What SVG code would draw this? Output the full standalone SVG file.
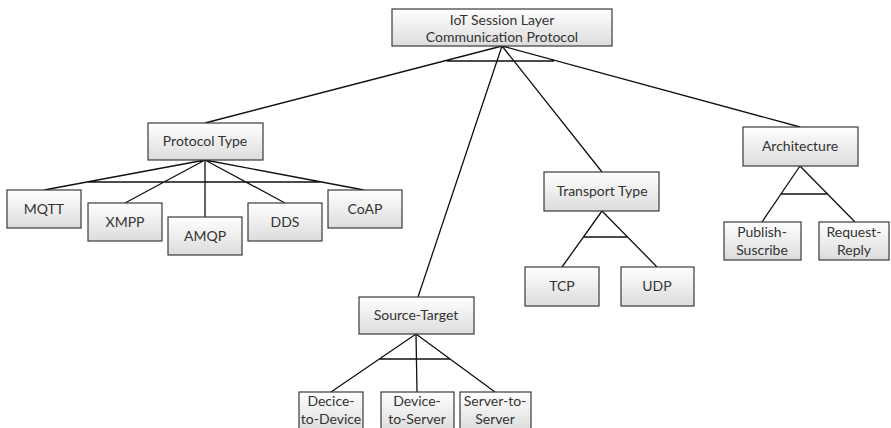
<svg xmlns="http://www.w3.org/2000/svg" width="891" height="428" viewBox="0 0 891 428">
  <defs>
    <linearGradient id="boxFill" x1="0" y1="0" x2="0" y2="1">
      <stop offset="0" stop-color="#ffffff"/>
      <stop offset="1" stop-color="#dcdcdc"/>
    </linearGradient>
    <style>
      .box { fill: url(#boxFill); stroke: #3a3a3a; stroke-width: 1.2; }
      .lbl { font-family: Lato, "Liberation Sans", sans-serif; font-size: 14px; fill: #333333; text-anchor: middle; }
      .link { stroke: #111111; stroke-width: 1.3; fill: none; }
    </style>
  </defs>
  <rect width="891" height="428" fill="#ffffff"/>

  <!-- connectors -->
  <g id="connectors">
    <!-- root fan-out -->
    <path class="link" d="M502 46 L205 123 M502 46 L418 297 M502 46 L602 172 M502 46 L800 127 M447 61 H554"/>
    <!-- protocol type fan-out -->
    <path class="link" d="M205 160 L44 190 M205 160 L125 203 M205 160 L205 217 M205 160 L285 203 M205 160 L364 190 M88 182 H321"/>
    <!-- source-target fan-out -->
    <path class="link" d="M416 334 L331 392 M416 334 L417 392 M416 334 L495 392 M379 359 H450"/>
    <!-- transport type fan-out -->
    <path class="link" d="M602 211 L562 267 M602 211 L657 267 M583 237 H628"/>
    <!-- architecture fan-out -->
    <path class="link" d="M800 166 L762 222 M800 166 L855 222 M781 194 H828"/>
  </g>

  <g id="root">
    <rect class="box" x="392" y="9" width="220" height="37"/>
    <text class="lbl" x="502" y="25">IoT Session Layer</text>
    <text class="lbl" x="502" y="42">Communication Protocol</text>
  </g>

  <g id="protocol-type">
    <rect class="box" x="148" y="123" width="115" height="37"/>
    <text class="lbl" x="205" y="146">Protocol Type</text>
  </g>
  <g id="mqtt">
    <rect class="box" x="7" y="190" width="74" height="38"/>
    <text class="lbl" x="44" y="214">MQTT</text>
  </g>
  <g id="xmpp">
    <rect class="box" x="88" y="203" width="74" height="38"/>
    <text class="lbl" x="125" y="227">XMPP</text>
  </g>
  <g id="amqp">
    <rect class="box" x="168" y="217" width="74" height="38"/>
    <text class="lbl" x="205" y="241">AMQP</text>
  </g>
  <g id="dds">
    <rect class="box" x="248" y="203" width="74" height="38"/>
    <text class="lbl" x="285" y="227">DDS</text>
  </g>
  <g id="coap">
    <rect class="box" x="328" y="190" width="74" height="38"/>
    <text class="lbl" x="365" y="214">CoAP</text>
  </g>

  <g id="source-target">
    <rect class="box" x="359" y="297" width="115" height="37"/>
    <text class="lbl" x="416" y="320">Source-Target</text>
  </g>
  <g id="device-to-device">
    <rect class="box" x="299" y="392" width="64" height="40"/>
    <text class="lbl" x="331" y="406">Decice-</text>
    <text class="lbl" x="331" y="424">to-Device</text>
  </g>
  <g id="device-to-server">
    <rect class="box" x="381" y="392" width="73" height="40"/>
    <text class="lbl" x="417" y="406">Device-</text>
    <text class="lbl" x="417" y="424">to-Server</text>
  </g>
  <g id="server-to-server">
    <rect class="box" x="460" y="392" width="71" height="40"/>
    <text class="lbl" x="495" y="406">Server-to-</text>
    <text class="lbl" x="495" y="424">Server</text>
  </g>

  <g id="transport-type">
    <rect class="box" x="544" y="172" width="115" height="39"/>
    <text class="lbl" x="602" y="196">Transport Type</text>
  </g>
  <g id="tcp">
    <rect class="box" x="525" y="267" width="74" height="39"/>
    <text class="lbl" x="562" y="291">TCP</text>
  </g>
  <g id="udp">
    <rect class="box" x="621" y="267" width="73" height="39"/>
    <text class="lbl" x="657" y="291">UDP</text>
  </g>

  <g id="architecture">
    <rect class="box" x="743" y="127" width="115" height="39"/>
    <text class="lbl" x="800" y="151">Architecture</text>
  </g>
  <g id="publish-subscribe">
    <rect class="box" x="724" y="222" width="77" height="38"/>
    <text class="lbl" x="762" y="237">Publish-</text>
    <text class="lbl" x="762" y="255">Suscribe</text>
  </g>
  <g id="request-reply">
    <rect class="box" x="819" y="222" width="70" height="38"/>
    <text class="lbl" x="854" y="237">Request-</text>
    <text class="lbl" x="854" y="255">Reply</text>
  </g>
</svg>
